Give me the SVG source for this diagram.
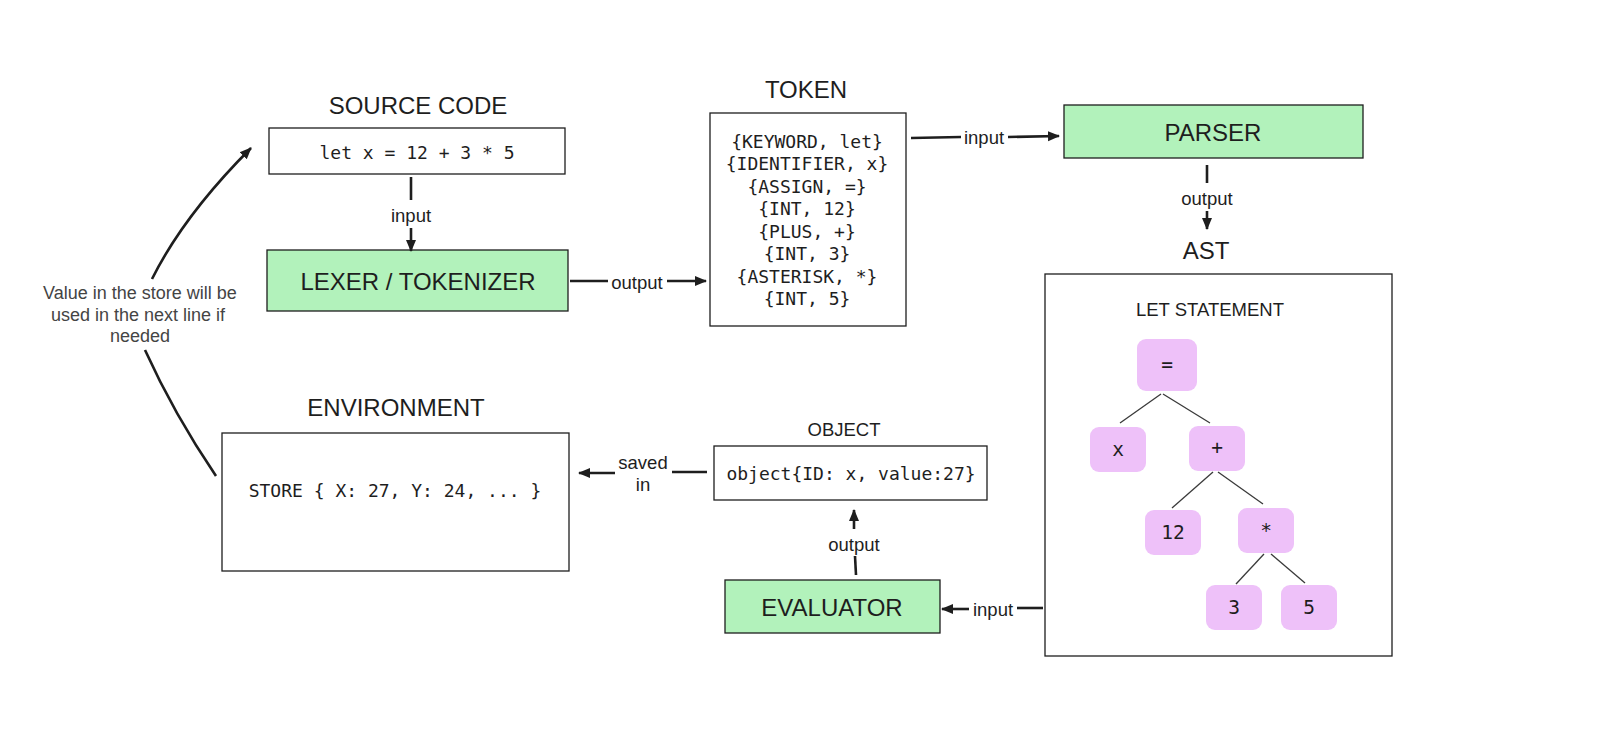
<svg xmlns="http://www.w3.org/2000/svg" width="1598" height="741" viewBox="0 0 1598 741">
<defs>
<marker id="arr" markerUnits="userSpaceOnUse" markerWidth="12" markerHeight="12" viewBox="0 0 12 12" refX="11" refY="6" orient="auto">
<path d="M0,1 L12,6 L0,11 z" fill="#1e1e1e"/>
</marker>
</defs>
<style>
.box{fill:#ffffff;stroke:#1e1e1e;stroke-width:1.3}
.proc{fill:#b2f2bb;stroke:#1e1e1e;stroke-width:1.3}
.node{fill:#eec1f9;stroke:none}
.title{font-family:"Liberation Sans",Arial,sans-serif;font-size:24px;fill:#1e1e1e;text-anchor:middle;dominant-baseline:central}
.sub{font-family:"Liberation Sans",Arial,sans-serif;font-size:18.5px;fill:#1e1e1e;text-anchor:middle;dominant-baseline:central}
.lbl{font-family:"Liberation Sans",Arial,sans-serif;font-size:18.5px;fill:#1e1e1e;text-anchor:middle;dominant-baseline:central}
.note{font-family:"Liberation Sans",Arial,sans-serif;font-size:18px;fill:#444444;text-anchor:middle;dominant-baseline:central}
.mono{font-family:"DejaVu Sans Mono","Liberation Mono",monospace;font-size:18px;fill:#1e1e1e;text-anchor:middle;dominant-baseline:central}
.nt{font-family:"DejaVu Sans Mono","Liberation Mono",monospace;font-size:19.5px;fill:#1e1e1e;text-anchor:middle;dominant-baseline:central}
.conn{stroke:#1e1e1e;stroke-width:2.6;fill:none}
.tree{stroke:#3a3a3a;stroke-width:1.3;fill:none}
</style>
<rect width="1598" height="741" fill="#ffffff"/>

<g id="source-code">
<text class="title" x="418" y="105">SOURCE CODE</text>
<rect class="box" x="269" y="128" width="296" height="46"/>
<text class="mono" x="417" y="152">let x = 12 + 3 * 5</text>
</g>

<g id="lexer">
<rect class="proc" x="267" y="250" width="301" height="61"/>
<text class="title" x="418" y="281">LEXER / TOKENIZER</text>
</g>

<g id="token">
<text class="title" x="806" y="89">TOKEN</text>
<rect class="box" x="710" y="113" width="196" height="213"/>
<text class="mono" x="807" y="141">{KEYWORD, let}</text>
<text class="mono" x="807" y="163">{IDENTIFIER, x}</text>
<text class="mono" x="807" y="186">{ASSIGN, =}</text>
<text class="mono" x="807" y="208">{INT, 12}</text>
<text class="mono" x="807" y="231">{PLUS, +}</text>
<text class="mono" x="807" y="253">{INT, 3}</text>
<text class="mono" x="807" y="276">{ASTERISK, *}</text>
<text class="mono" x="807" y="298">{INT, 5}</text>
</g>

<g id="parser">
<rect class="proc" x="1064" y="105" width="299" height="53"/>
<text class="title" x="1213" y="132">PARSER</text>
</g>

<g id="ast">
<text class="title" x="1206" y="250">AST</text>
<rect class="box" x="1045" y="274" width="347" height="382"/>
<text class="sub" x="1210" y="309">LET STATEMENT</text>
<g id="ast-tree">
<line class="tree" x1="1161" y1="394" x2="1120" y2="423"/>
<line class="tree" x1="1163" y1="394" x2="1210" y2="423"/>
<line class="tree" x1="1213" y1="472" x2="1172" y2="508"/>
<line class="tree" x1="1218" y1="472" x2="1263" y2="504"/>
<line class="tree" x1="1264" y1="554" x2="1236" y2="584"/>
<line class="tree" x1="1271" y1="554" x2="1305" y2="583"/>
</g>
<g id="node-assign"><rect class="node" x="1137" y="339" width="60" height="52" rx="9"/><text class="nt" x="1167" y="364">=</text></g>
<g id="node-x"><rect class="node" x="1090" y="427" width="56" height="45" rx="9"/><text class="nt" x="1118" y="449">x</text></g>
<g id="node-plus"><rect class="node" x="1189" y="426" width="56" height="45" rx="9"/><text class="nt" x="1217" y="447">+</text></g>
<g id="node-12"><rect class="node" x="1145" y="510" width="56" height="45" rx="9"/><text class="nt" x="1173" y="532">12</text></g>
<g id="node-mul"><rect class="node" x="1238" y="508" width="56" height="45" rx="9"/><text class="nt" x="1266" y="530">*</text></g>
<g id="node-3"><rect class="node" x="1206" y="585" width="56" height="45" rx="9"/><text class="nt" x="1234" y="607">3</text></g>
<g id="node-5"><rect class="node" x="1281" y="585" width="56" height="45" rx="9"/><text class="nt" x="1309" y="607">5</text></g>
</g>

<g id="environment">
<text class="title" x="396" y="407">ENVIRONMENT</text>
<rect class="box" x="222" y="433" width="347" height="138"/>
<text class="mono" x="395" y="490">STORE { X: 27, Y: 24, ... }</text>
</g>

<g id="object">
<text class="sub" x="844" y="429">OBJECT</text>
<rect class="box" x="714" y="446" width="273" height="54"/>
<text class="mono" x="851" y="473">object{ID: x, value:27}</text>
</g>

<g id="evaluator">
<rect class="proc" x="725" y="580" width="215" height="53"/>
<text class="title" x="832" y="607">EVALUATOR</text>
</g>

<g id="note">
<text class="note" x="140" y="293">Value in the store will be</text>
<text class="note" x="138" y="315">used in the next line if</text>
<text class="note" x="140" y="336">needed</text>
</g>

<g id="connectors">
<line class="conn" x1="411" y1="177" x2="411" y2="200"/>
<text class="lbl" x="411" y="215">input</text>
<line class="conn" x1="411" y1="228" x2="411" y2="251" marker-end="url(#arr)"/>

<line class="conn" x1="570" y1="281" x2="608" y2="281"/>
<text class="lbl" x="637" y="282">output</text>
<line class="conn" x1="667" y1="281" x2="706" y2="281" marker-end="url(#arr)"/>

<line class="conn" x1="911" y1="138" x2="961" y2="137"/>
<text class="lbl" x="984" y="137">input</text>
<line class="conn" x1="1008" y1="137" x2="1059" y2="136" marker-end="url(#arr)"/>

<line class="conn" x1="1207" y1="165" x2="1207" y2="183"/>
<text class="lbl" x="1207" y="198">output</text>
<line class="conn" x1="1207" y1="211" x2="1207" y2="229" marker-end="url(#arr)"/>

<line class="conn" x1="1043" y1="608" x2="1017" y2="608"/>
<text class="lbl" x="993" y="609">input</text>
<line class="conn" x1="969" y1="609" x2="942" y2="609" marker-end="url(#arr)"/>

<line class="conn" x1="856" y1="575" x2="855" y2="556"/>
<text class="lbl" x="854" y="544">output</text>
<line class="conn" x1="854" y1="529" x2="854" y2="510" marker-end="url(#arr)"/>

<line class="conn" x1="707" y1="472" x2="672" y2="472"/>
<text class="lbl" x="643" y="462">saved</text>
<text class="lbl" x="643" y="484">in</text>
<line class="conn" x1="615" y1="473" x2="579" y2="473" marker-end="url(#arr)"/>

<path class="conn" d="M152,279 Q184,215 251,148" stroke-width="2.2" stroke="#333333" marker-end="url(#arr)"/>
<path class="conn" d="M145,350 Q174,414 216,476" stroke-width="2.2" stroke="#333333"/>
</g>
</svg>
